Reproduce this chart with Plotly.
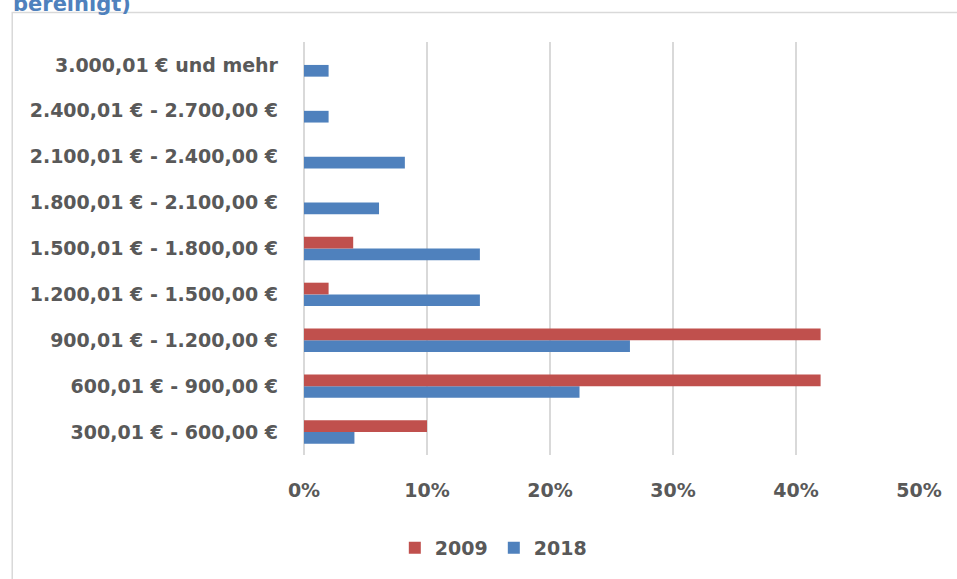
import plotly.graph_objects as go

# Income brackets, listed from the bottom of the chart upwards
brackets = [
    "300,01 € - 600,00 €",
    "600,01 € - 900,00 €",
    "900,01 € - 1.200,00 €",
    "1.200,01 € - 1.500,00 €",
    "1.500,01 € - 1.800,00 €",
    "1.800,01 € - 2.100,00 €",
    "2.100,01 € - 2.400,00 €",
    "2.400,01 € - 2.700,00 €",
    "3.000,01 € und mehr",
]

# Share of respondents per bracket, in percent
share_2009 = [10, 42, 42, 2, 4, 0, 0, 0, 0]
share_2018 = [4.1, 22.4, 26.5, 14.3, 14.3, 6.1, 8.2, 2.0, 2.0]

x_ticks = [0, 10, 20, 30, 40, 50]

RED = "#c0504d"
BLUE = "#4f81bd"
TEXT = "#595959"
GRID = "#d9d9d9"
FONT = "DejaVu Sans"

W, H = 957, 579
L, R, T, B = 304, 37.5, 41.5, 123.5
plot_w = W - L - R
plot_h = H - T - B


def px_to_paper_x(px):
    return (px - L) / plot_w


def px_to_paper_y(py):
    return 1 + (T - py) / plot_h


fig = go.Figure()
# 2018 first so it sits below 2009 inside each group
fig.add_trace(go.Bar(
    y=brackets, x=share_2018, name="2018", orientation="h",
    marker=dict(color=BLUE, line=dict(width=0)),
))
fig.add_trace(go.Bar(
    y=brackets, x=share_2009, name="2009", orientation="h",
    marker=dict(color=RED, line=dict(width=0)),
))

fig.update_layout(
    width=W, height=H,
    margin=dict(l=L, r=R, t=T, b=B, pad=0),
    paper_bgcolor="white",
    plot_bgcolor="white",
    barmode="group",
    bargap=0.49,
    bargroupgap=0,
    font=dict(family=FONT, color=TEXT, size=19, weight="bold"),
    showlegend=True,
    legend=dict(
        orientation="h",
        traceorder="reversed",
        xref="container", yref="container",
        x=0.516, xanchor="center",
        y=1 - 548 / H, yanchor="middle",
        entrywidth=54, entrywidthmode="pixels",
        font=dict(family=FONT, size=19, color=TEXT, weight="bold"),
        bgcolor="rgba(0,0,0,0)",
    ),
    xaxis=dict(
        range=[0, 50],
        tickvals=x_ticks,
        ticktext=[f"{v}%" for v in x_ticks],
        showgrid=True, gridcolor=GRID, gridwidth=1.5,
        zeroline=True, zerolinecolor=GRID, zerolinewidth=1.5,
        showline=False, ticks="",
        ticklabelstandoff=22,
        tickfont=dict(family=FONT, size=19, color=TEXT, weight="bold"),
        fixedrange=True,
    ),
    yaxis=dict(
        type="category",
        categoryorder="array", categoryarray=brackets,
        range=[-0.5, len(brackets) - 0.5],
        showgrid=False, showline=False, ticks="",
        ticklabelstandoff=25,
        tickfont=dict(family=FONT, size=19, color=TEXT, weight="bold"),
        fixedrange=True,
    ),
    shapes=[
        # chart frame, running past the right and bottom page edges
        dict(
            type="rect", xref="paper", yref="paper",
            x0=px_to_paper_x(12), x1=px_to_paper_x(975),
            y0=px_to_paper_y(600), y1=px_to_paper_y(12),
            line=dict(color=GRID, width=1.5), fillcolor="rgba(0,0,0,0)",
            layer="below",
        )
    ],
    annotations=[
        dict(
            text="bereinigt)", xref="paper", yref="paper",
            x=px_to_paper_x(11), xanchor="left",
            y=px_to_paper_y(17.5), yanchor="bottom",
            showarrow=False,
            font=dict(family=FONT, size=21, color=BLUE, weight="bold"),
        )
    ],
)

fig.write_html("out.html")
